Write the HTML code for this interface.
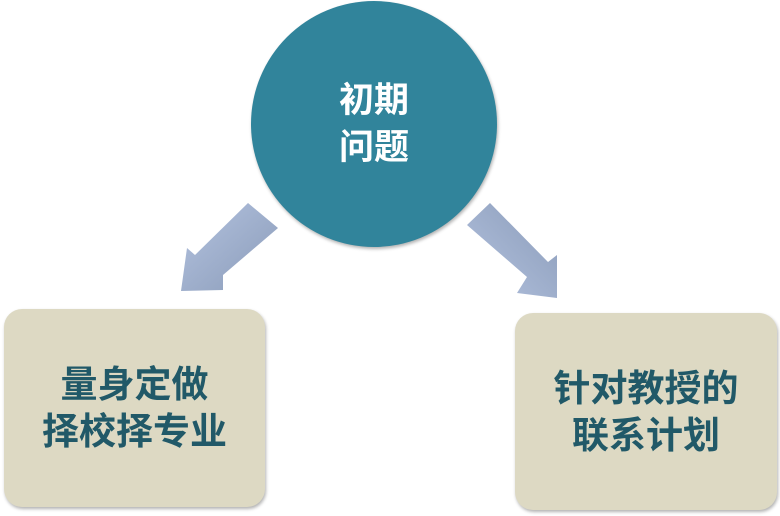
<!DOCTYPE html>
<html><head><meta charset="utf-8"><style>
body{margin:0;width:780px;height:516px;background:#fff;position:relative;overflow:hidden;font-family:"Liberation Sans","Noto Sans CJK SC",sans-serif;font-weight:bold}
.box{position:absolute;background:#ddd9c3;border-radius:18px;box-shadow:1px 2px 3px rgba(0,0,0,.3);color:#215968;font-size:37px;line-height:47px;text-align:center;display:flex;align-items:center;justify-content:center}
.c{position:absolute;left:251px;top:1px;width:246px;height:246px;border-radius:50%;background:#31849b;box-shadow:1px 2px 3px rgba(0,0,0,.3);color:#fff;font-size:35px;line-height:47px;display:flex;align-items:center;justify-content:center;text-align:center}
</style></head><body>
<svg width="780" height="516" style="position:absolute;left:0;top:0">
<defs><linearGradient id="g" x1="0" y1="0" x2="1" y2="1"><stop offset="0" stop-color="#b4c3e0"/><stop offset="1" stop-color="#8a9bb8"/></linearGradient>
<linearGradient id="g2" x1="1" y1="0" x2="0" y2="1"><stop offset="0" stop-color="#8a9bb8"/><stop offset="1" stop-color="#b4c3e0"/></linearGradient></defs>
<polygon points="248,203 278,228 223,275 223,290 181,291 187,248 195,255" fill="url(#g)"/>
<polygon points="490,203 467,225 527,277 517,293 557,298 557,255 548,262" fill="url(#g2)"/>
</svg>
<div class="c">初期<br>问题</div>
<div class="box" style="left:4px;top:309px;width:261px;height:198px">量身定做<br>择校择专业</div>
<div class="box" style="left:515px;top:313px;width:262px;height:197px">针对教授的<br>联系计划</div>
</body></html>
